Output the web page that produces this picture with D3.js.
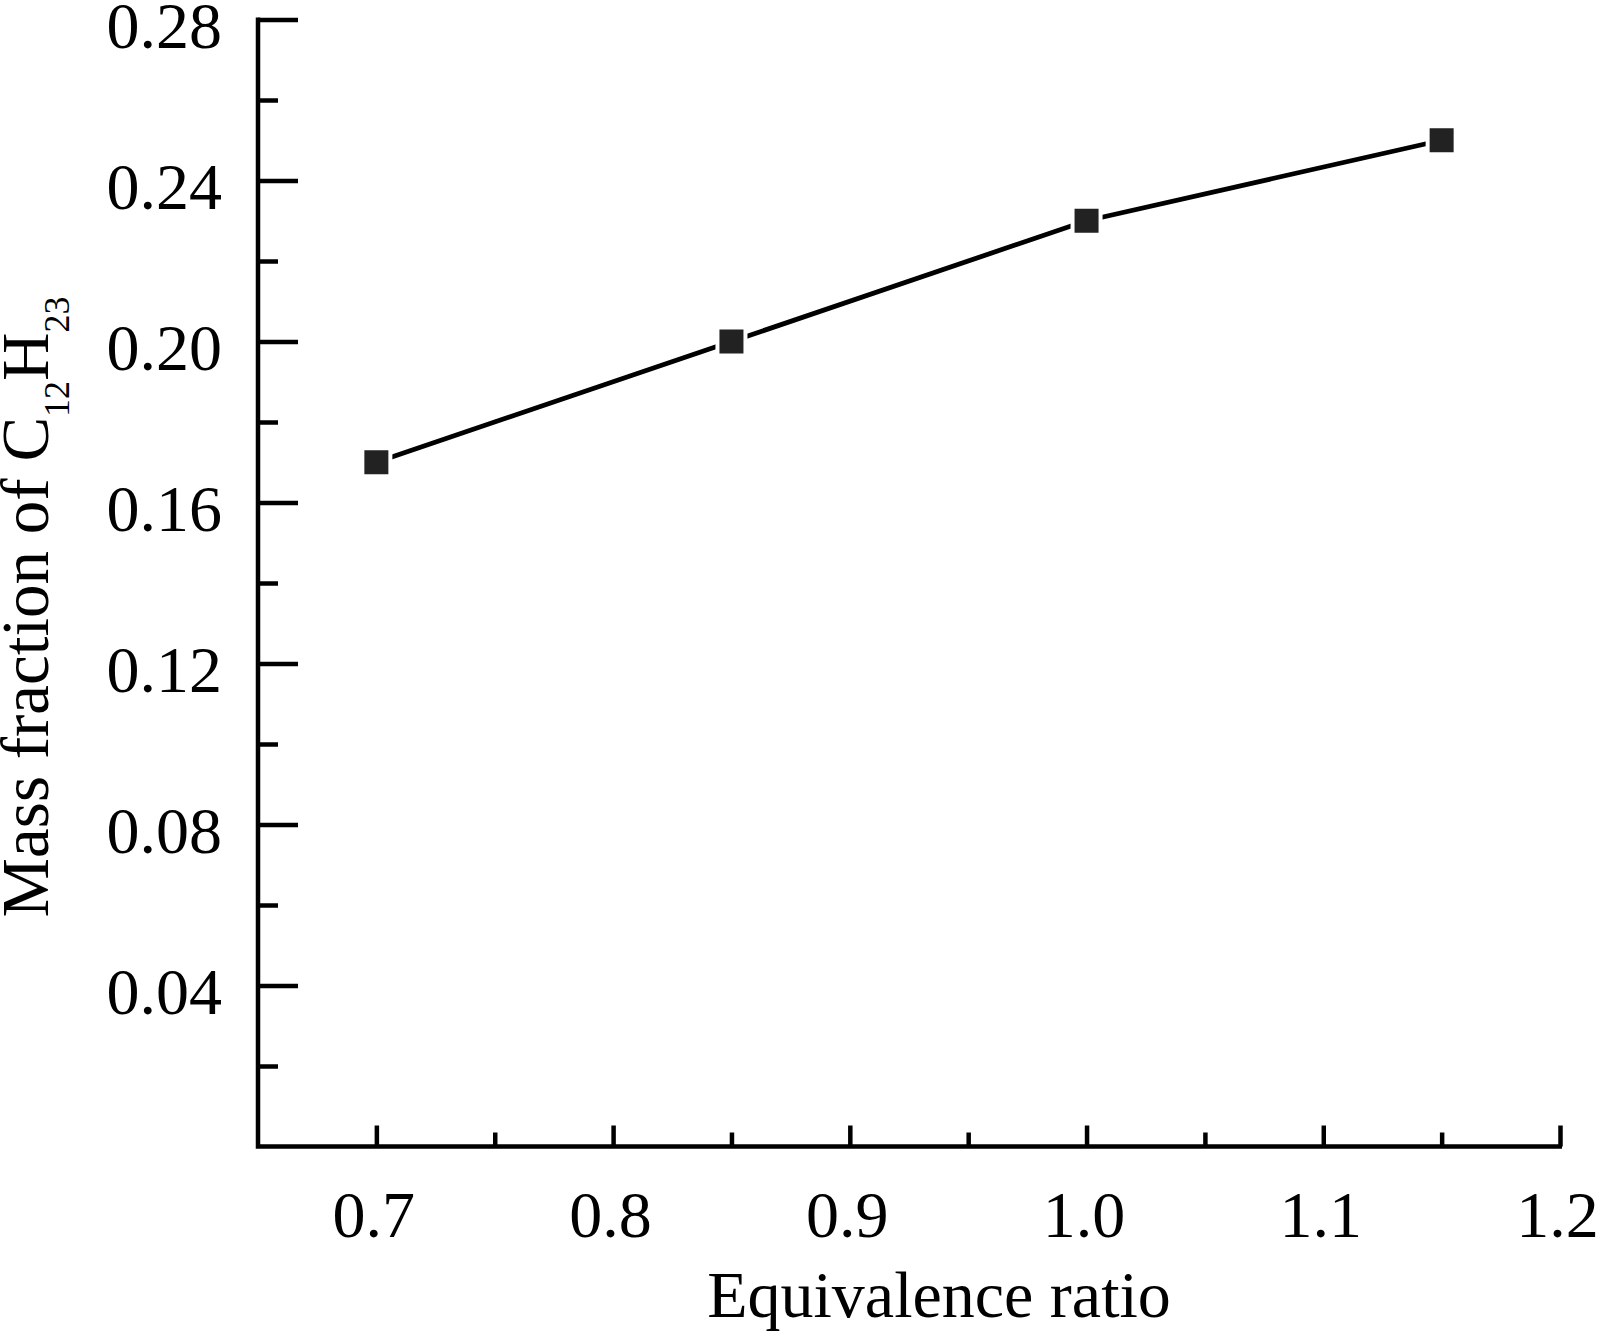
<!DOCTYPE html>
<html>
<head>
<meta charset="utf-8">
<script src="https://cdn.jsdelivr.net/npm/d3@7"></script>
<style>
  html, body { margin: 0; padding: 0; background: #fff; }
  svg { display: block; }
  text { font-family: "Liberation Serif", "Times New Roman", serif; fill: #000; }
</style>
</head>
<body>
<svg id="chart" width="1603" height="1332"></svg>
<script>
// ---- data ----
const equivalenceRatio = [0.7, 0.85, 1.0, 1.15];
const massFraction = [0.17, 0.20, 0.23, 0.25];
const xMajorTicks = [0.7, 0.8, 0.9, 1.0, 1.1, 1.2];
const xMinorTicks = [0.75, 0.85, 0.95, 1.05, 1.15];
const yMajorTicks = [0.04, 0.08, 0.12, 0.16, 0.20, 0.24, 0.28];
const yMinorTicks = [0.02, 0.06, 0.10, 0.14, 0.18, 0.22, 0.26];

const svg = d3.select("#chart");
const plotLeft = 258, plotRight = 1560, plotTop = 19.5, plotBottom = 1146.5;

const x = d3.scaleLinear().domain([0.65, 1.2]).range([plotLeft, plotRight]);
const y = d3.scaleLinear().domain([0, 0.28]).range([plotBottom, plotTop]);

// y axis major
const gy = svg.append("g").attr("transform", `translate(${plotLeft},0)`)
  .call(d3.axisLeft(y).tickValues(yMajorTicks).tickSize(-40).tickPadding(36)
    .tickFormat(d3.format(".2f")));
gy.select(".domain").remove();
gy.selectAll(".tick line").attr("stroke", "#000").attr("stroke-width", 4.5);
gy.selectAll(".tick text").attr("font-size", 66).attr("dy", 28)
  .style("font-family", '"Liberation Serif", "Times New Roman", serif');

// y axis minor
const gym = svg.append("g").attr("transform", `translate(${plotLeft},0)`)
  .call(d3.axisLeft(y).tickValues(yMinorTicks).tickSize(-20).tickFormat(""));
gym.select(".domain").remove();
gym.selectAll(".tick line").attr("stroke", "#000").attr("stroke-width", 4.5);

// x axis major
const gx = svg.append("g").attr("transform", `translate(0,${plotBottom})`)
  .call(d3.axisBottom(x).tickValues(xMajorTicks).tickSize(-21).tickPadding(0)
    .tickFormat(d3.format(".1f")));
gx.select(".domain").remove();
gx.selectAll(".tick line").attr("stroke", "#000").attr("stroke-width", 4.5);
gx.selectAll(".tick text").attr("font-size", 66).attr("dy", 0).attr("y", 90)
  .attr("dx", -3)
  .style("font-family", '"Liberation Serif", "Times New Roman", serif');

// x axis minor
const gxm = svg.append("g").attr("transform", `translate(0,${plotBottom})`)
  .call(d3.axisBottom(x).tickValues(xMinorTicks).tickSize(-14).tickFormat(""));
gxm.select(".domain").remove();
gxm.selectAll(".tick line").attr("stroke", "#000").attr("stroke-width", 4.5);

// axis lines
svg.append("path")
  .attr("d", `M${plotLeft},${plotTop - 2}V${plotBottom}H${plotRight + 2}`)
  .attr("fill", "none").attr("stroke", "#000").attr("stroke-width", 4.5)
  .attr("stroke-linejoin", "miter");

// data line
const pts = equivalenceRatio.map((d, i) => [d, massFraction[i]]);
svg.append("path")
  .datum(pts)
  .attr("d", d3.line().x(d => x(d[0])).y(d => y(d[1])))
  .attr("fill", "none").attr("stroke", "#000").attr("stroke-width", 4.8);

// markers with white halo
const mk = svg.append("g").selectAll("g").data(pts).join("g")
  .attr("transform", d => `translate(${x(d[0])},${y(d[1])})`);
mk.append("rect").attr("x", -16).attr("y", -16).attr("width", 32).attr("height", 32).attr("fill", "#fff");
mk.append("rect").attr("x", -12).attr("y", -12).attr("width", 24).attr("height", 24).attr("fill", "#222");

// x title
svg.append("text")
  .attr("x", 939).attr("y", 1317)
  .attr("text-anchor", "middle").attr("font-size", 66)
  .text("Equivalence ratio");

// y title with subscripts
const yt = svg.append("text")
  .attr("transform", "translate(48,607) rotate(-90)")
  .attr("text-anchor", "middle").attr("font-size", 67);
yt.append("tspan").text("Mass fraction of C");
yt.append("tspan").attr("font-size", 36).attr("dy", 21).text("12");
yt.append("tspan").attr("dy", -21).text("H");
yt.append("tspan").attr("font-size", 36).attr("dy", 21).text("23");
</script>
</body>
</html>
